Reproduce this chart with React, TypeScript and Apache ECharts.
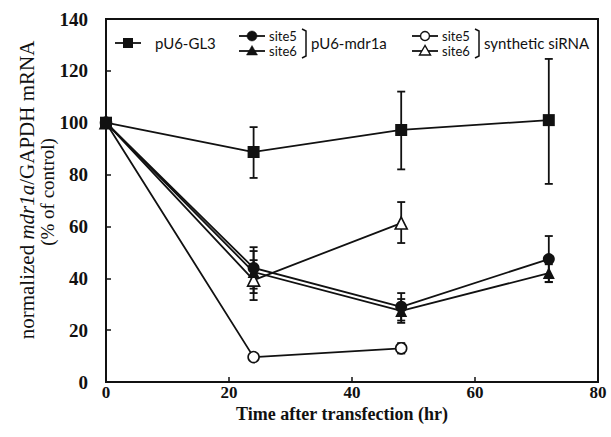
import React, { useEffect, useRef } from "react";
import * as echarts from "echarts";

const times = [0, 24, 48, 72];
const gl3 = [100, 88.7, 97.2, 101];
const gl3Err: (number[] | null)[] = [null, [78.7, 98.3], [82, 112], [76.4, 124.6]];
const mdrSite5 = [100, 44, 29, 47.4];
const mdrSite5Err: (number[] | null)[] = [null, [36, 52], [23.7, 34.3], [38.5, 56.3]];
const mdrSite6 = [100, 42.4, 27.4, 42];
const mdrSite6Err: (number[] | null)[] = [null, [34.3, 50.5], [22.8, 32], [38.6, 45.4]];
const sirnaSite5 = [100, 9.6, 13];
const sirnaSite5Err: (number[] | null)[] = [null, [8.6, 10.6], [11, 15]];
const sirnaSite6 = [100, 39.3, 61.3];
const sirnaSite6Err: (number[] | null)[] = [null, [31.6, 47], [53.6, 69.4]];
const xTicks = [0, 20, 40, 60, 80];
const yTicks = [0, 20, 40, 60, 80, 100, 120, 140];

const FONT = "Liberation Serif";
const LFONT = "Lato";
const C = "#111";

function pts(ys: number[]) {
  return ys.map((y, i) => [times[i], y]);
}

function errData(errs: (number[] | null)[]) {
  const out: number[][] = [];
  errs.forEach((e, i) => {
    if (e) out.push([times[i], e[0], e[1]]);
  });
  return out;
}

function errSeries(errs: (number[] | null)[]) {
  return {
    type: "custom",
    data: errData(errs),
    z: 1,
    silent: true,
    renderItem: (params: any, api: any) => {
      const x = api.value(0);
      const lo = api.coord([x, api.value(1)]);
      const hi = api.coord([x, api.value(2)]);
      const w = 4;
      const style = { stroke: C, lineWidth: 1.8 };
      return {
        type: "group",
        children: [
          { type: "line", shape: { x1: lo[0], y1: lo[1], x2: hi[0], y2: hi[1] }, style },
          { type: "line", shape: { x1: lo[0] - w, y1: lo[1], x2: lo[0] + w, y2: lo[1] }, style },
          { type: "line", shape: { x1: hi[0] - w, y1: hi[1], x2: hi[0] + w, y2: hi[1] }, style },
        ],
      };
    },
  };
}

function lineSeries(name: string, ys: number[], symbol: string, size: number, filled: boolean, z: number) {
  return {
    name,
    type: "line",
    data: pts(ys),
    symbol,
    symbolSize: size,
    showAllSymbol: true,
    z,
    lineStyle: { color: C, width: 1.8 },
    itemStyle: { color: filled ? C : "#fff", borderColor: C, borderWidth: filled ? 0 : 1.6 },
  };
}

export default function App() {
  const ref = useRef<HTMLDivElement>(null);
  useEffect(() => {
    if (!ref.current) return;
    const chart = echarts.init(ref.current, null, { renderer: "svg" });
    const ls = { stroke: C, lineWidth: 1.8 };
    const legendRow = (x: number, y: number, shape: any) => [
      { type: "line", shape: { x1: x - 13, y1: y, x2: x + 13, y2: y }, style: ls },
      shape,
    ];
    const tri = (x: number, y: number, filled: boolean) => ({
      type: "polygon",
      shape: { points: [[x, y - 5.5], [x - 5.5, y + 4], [x + 5.5, y + 4]] },
      style: { fill: filled ? C : "#fff", stroke: C, lineWidth: filled ? 0.5 : 1.4 },
    });
    const circ = (x: number, y: number, filled: boolean) => ({
      type: "circle",
      shape: { cx: x, cy: y, r: filled ? 5 : 4.5 },
      style: { fill: filled ? C : "#fff", stroke: C, lineWidth: filled ? 0.5 : 1.4 },
    });
    const bracket = (x: number, y1: number, y2: number) => ({
      type: "polyline",
      shape: { points: [[x, y1], [x + 4, y1 + 2], [x + 4, y2 - 2], [x, y2]] },
      style: { stroke: C, lineWidth: 1.5, fill: null },
    });
    const txt = (x: number, y: number, t: string, size: number) => ({
      type: "text",
      x,
      y,
      style: { text: t, font: `${size}px "${LFONT}"`, fill: C, verticalAlign: "middle" },
    });
    chart.setOption({
      animation: false,
      grid: {
        left: 106,
        right: 13,
        top: 19,
        bottom: 55,
        show: true,
        borderColor: C,
        borderWidth: 2,
        backgroundColor: "transparent",
      },
      xAxis: {
        type: "value",
        min: 0,
        max: 80,
        interval: 20,
        axisLine: { lineStyle: { color: C, width: 2 } },
        axisTick: { inside: true, length: 5, lineStyle: { color: C, width: 1.5 } },
        splitLine: { show: false },
        axisLabel: {
          margin: 2,
          color: C,
          fontFamily: FONT,
          fontWeight: "bold",
          fontSize: 17,
          formatter: (v: number) => (xTicks.includes(v) ? String(v) : ""),
        },
      },
      yAxis: {
        type: "value",
        min: 0,
        max: 140,
        interval: 20,
        axisLine: { lineStyle: { color: C, width: 2 } },
        axisTick: { inside: true, length: 5, lineStyle: { color: C, width: 1.5 } },
        splitLine: { show: false },
        axisLabel: {
          margin: 18,
          color: C,
          fontFamily: FONT,
          fontWeight: "bold",
          fontSize: 19,
          formatter: (v: number) => (yTicks.includes(v) ? String(v) : ""),
        },
      },
      series: [
        errSeries(gl3Err),
        errSeries(mdrSite5Err),
        errSeries(mdrSite6Err),
        errSeries(sirnaSite5Err),
        errSeries(sirnaSite6Err),
        lineSeries("synthetic siRNA site5", sirnaSite5, "circle", 11, false, 3),
        lineSeries("synthetic siRNA site6", sirnaSite6, "triangle", 12, false, 3),
        lineSeries("pU6-mdr1a site6", mdrSite6, "triangle", 12, true, 4),
        lineSeries("pU6-mdr1a site5", mdrSite5, "circle", 12, true, 4),
        lineSeries("pU6-GL3", gl3, "rect", 12, true, 5),
      ],
      graphic: [
        ...legendRow(128, 43, { type: "rect", shape: { x: 123, y: 38, width: 10, height: 10 }, style: { fill: C } }),
        txt(155, 43, "pU6-GL3", 15),
        ...legendRow(252, 36, circ(252, 36, true)),
        ...legendRow(252, 51, tri(252, 51, true)),
        txt(269, 36, "site5", 13),
        txt(269, 51, "site6", 13),
        bracket(302, 29, 58),
        txt(311, 43, "pU6-mdr1a", 15),
        ...legendRow(425, 36, circ(425, 36, false)),
        ...legendRow(425, 51, tri(425, 51, false)),
        txt(442, 36, "site5", 13),
        txt(442, 51, "site6", 13),
        bracket(475, 29, 58),
        txt(484, 43, "synthetic siRNA", 15),
        {
          type: "text",
          x: 27,
          y: 190,
          rotation: Math.PI / 2,
          style: {
            text: "normalized {i|mdr1a}/GAPDH mRNA",
            font: `21px "${FONT}"`,
            fill: C,
            align: "center",
            verticalAlign: "middle",
            rich: { i: { fontStyle: "italic", fontSize: 21, fontFamily: FONT, fill: C } },
          },
        },
        {
          type: "text",
          x: 47,
          y: 192,
          rotation: Math.PI / 2,
          style: { text: "(% of control)", font: `19px "${FONT}"`, fill: C, align: "center", verticalAlign: "middle" },
        },
        {
          type: "text",
          x: 342,
          y: 414,
          style: { text: "Time after transfection (hr)", font: `bold 18px "${FONT}"`, fill: C, align: "center", verticalAlign: "middle" },
        },
      ],
    });
    return () => chart.dispose();
  }, []);
  return <div ref={ref} style={{ position: "absolute", left: 0, top: 0, width: 611, height: 437 }} />;
}
